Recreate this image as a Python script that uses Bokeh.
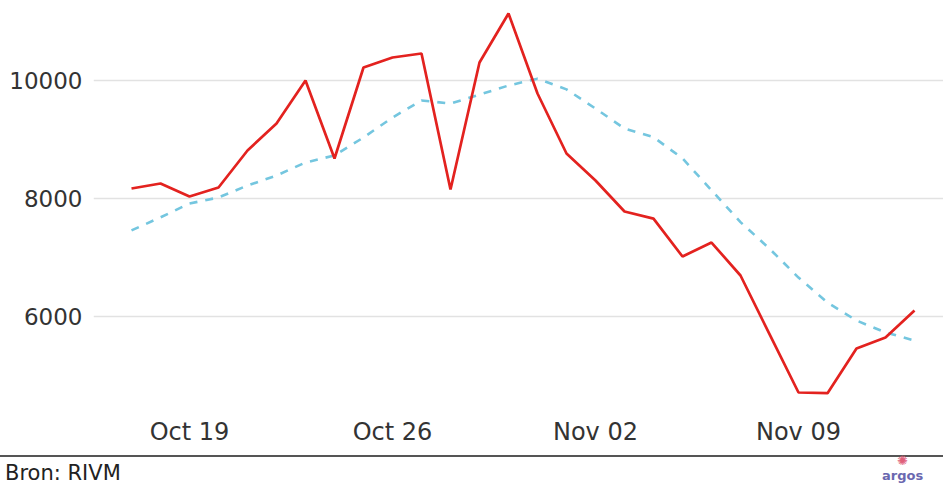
import pandas as pd
from bokeh.plotting import figure
from bokeh.models import Range1d, FixedTicker, DatetimeTickFormatter, NumeralTickFormatter, Div
from bokeh.layouts import column
from bokeh.embed import file_html
from bokeh.resources import INLINE

# ---- data ----
start_date = "2020-10-17"
daily_cases = [8170, 8254, 8034, 8186, 8814, 9271, 10000, 8678, 10220, 10390,
               10458, 8153, 10305, 11135, 9780, 8763, 8305, 7780, 7660, 7017,
               7254, 6695, 5700, 4712, 4700, 5458, 5644, 6102]
avg_7day = [7460, 7680, 7915, 8017, 8220, 8390, 8610, 8730, 9034, 9373,
            9661, 9610, 9760, 9915, 10030, 9850, 9525, 9186, 9040, 8680,
            8140, 7600, 7150, 6660, 6237, 5932, 5730, 5593]
x_tick_dates = ["2020-10-19", "2020-10-26", "2020-11-02", "2020-11-09"]
y_ticks = [6000, 8000, 10000]
source_text = "Bron: RIVM"
logo_text = "argos"

dates = pd.date_range(start_date, periods=len(daily_cases), freq="D")

FONT = "DejaVu Sans"
W = 943
FIG_H = 454
FOOT_H = 30
Y0, Y1 = 4373, 11356
X0 = pd.Timestamp("2020-10-15 16:33")
X1 = pd.Timestamp("2020-11-14 00:00")

p = figure(width=W, height=FIG_H, x_axis_type="datetime",
           output_backend="svg", toolbar_location=None,
           x_range=Range1d(X0, X1), y_range=Range1d(Y0, Y1),
           min_border_left=93, min_border_right=0, min_border_top=0, min_border_bottom=42)
p.outline_line_color = None
p.background_fill_color = "white"
p.border_fill_color = "white"

p.line(dates, avg_7day, line_color="#74c6df", line_width=2.6, line_dash="8 8")
p.line(dates, daily_cases, line_color="#e3221f", line_width=2.7)

p.xgrid.grid_line_color = None
p.ygrid.grid_line_color = "#e2e2e2"
p.ygrid.grid_line_width = 1.5

for ax in (p.xaxis[0], p.yaxis[0]):
    ax.axis_line_color = None
    ax.major_tick_line_color = None
    ax.minor_tick_line_color = None
    ax.major_tick_out = 0
    ax.major_tick_in = 0
    ax.major_label_text_font = FONT
    ax.major_label_text_color = "#333333"

p.xaxis.ticker = FixedTicker(ticks=[pd.Timestamp(d).value // 10**6 for d in x_tick_dates])
p.xaxis.formatter = DatetimeTickFormatter(days="%b %d", months="%b %d")
p.xaxis.major_label_text_font_size = "24px"
p.xaxis.major_label_standoff = 5

p.yaxis.ticker = FixedTicker(ticks=y_ticks)
p.yaxis.formatter = NumeralTickFormatter(format="0")
p.yaxis.major_label_text_font_size = "23px"
p.yaxis.major_label_standoff = 11

# ---- footer: separator rule, source and logo ----
footer_html = (
    f'<div style="position:relative;width:{W}px;height:{FOOT_H - 1}px;box-sizing:border-box;'
    f'margin-top:1px;border-top:2px solid #555555;font-family:\'{FONT}\';background:white;">'
    f'<span style="position:absolute;left:5px;top:5px;font-size:21px;line-height:23px;'
    f'color:#222222;white-space:nowrap;">{source_text}</span>'
    f'<span style="position:absolute;left:897px;top:-3px;font-size:13px;line-height:13px;'
    f'color:#e0607a;">&#10042;</span>'
    f'<span style="position:absolute;left:882px;top:12px;font-size:13px;line-height:14px;'
    f'font-weight:bold;color:#6a68b0;">{logo_text}</span>'
    f'</div>'
)
footer = Div(text=footer_html, width=W, height=FOOT_H, margin=(0, 0, 0, 0))

layout = column(p, footer, spacing=0, margin=(0, 0, 0, 0))
open("out.html", "w").write(file_html(layout, INLINE))
